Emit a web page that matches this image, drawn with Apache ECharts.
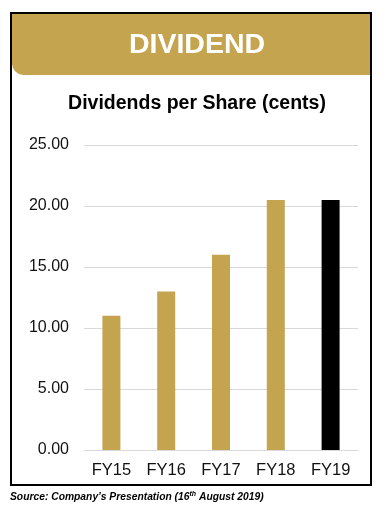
<!DOCTYPE html>
<html><head><meta charset="utf-8">
<script src="https://cdn.jsdelivr.net/npm/echarts@6/dist/echarts.min.js"></script>
<style>html,body{margin:0;padding:0;background:#fff}#c{width:389px;height:511px}</style>
</head><body><div id="c"></div>
<script>
var categories = ['FY15','FY16','FY17','FY18','FY19'];
var values = [11.0, 13.0, 16.0, 20.5, 20.5];
var barColors = ['#C4A44E','#C4A44E','#C4A44E','#C4A44E','#000000'];
var yTicks = [0, 5, 10, 15, 20, 25];

var chart = echarts.init(document.getElementById('c'), null, {renderer:'canvas'});
chart.setOption({
  animation: false,
  backgroundColor: '#fff',
  graphic: [
    {type:'rect', shape:{x:11, y:13, width:360, height:472}, style:{fill:'none', stroke:'#000', lineWidth:2}, z:10},
    {type:'rect', shape:{x:12, y:14, width:358, height:61, r:[0,0,0,12]}, style:{fill:'#C4A44E'}},
    {type:'text', x:197, y:45, style:{text:'DIVIDEND', fill:'#fff', font:'bold 28.5px "Liberation Sans", Arial, sans-serif', textAlign:'center', textVerticalAlign:'middle'}},
    {type:'text', x:197, y:104, style:{text:'Dividends per Share (cents)', fill:'#000', font:'bold 19.5px "Liberation Sans", Arial, sans-serif', textAlign:'center', textVerticalAlign:'middle'}},
    {type:'text', x:10, y:497, style:{
      text:'{a|Source: Company\u2019s Presentation (16}{s|th}{a| August 2019)}',
      textVerticalAlign:'middle',
      rich:{
        a:{font:'italic bold 10.3px "Liberation Sans", Arial, sans-serif', fill:'#000'},
        s:{font:'italic bold 7px "Liberation Sans", Arial, sans-serif', fill:'#000', padding:[0,0,6,0]}
      }
    }}
  ],
  grid: {left:84, right:31, top:145, bottom:61, containLabel:false},
  xAxis: {
    type:'category', data: categories,
    axisLine:{lineStyle:{color:'#d9d9d9', width:1}},
    axisTick:{show:false},
    axisLabel:{color:'#111', fontSize:16.5, fontFamily:'"Liberation Sans", Arial, sans-serif', margin:12}
  },
  yAxis: {
    type:'value', min:yTicks[0], max:yTicks[yTicks.length-1], interval:5,
    axisLine:{show:false}, axisTick:{show:false},
    splitLine:{lineStyle:{color:'#d9d9d9', width:1}},
    axisLabel:{color:'#111', fontSize:16, fontFamily:'"Liberation Sans", Arial, sans-serif', margin:15,
      formatter:function(v){return v.toFixed(2);}}
  },
  series: [{
    type:'bar', barWidth:18,
    data: values.map(function(v,i){return {value:v, itemStyle:{color:barColors[i]}};})
  }]
});
</script></body></html>
